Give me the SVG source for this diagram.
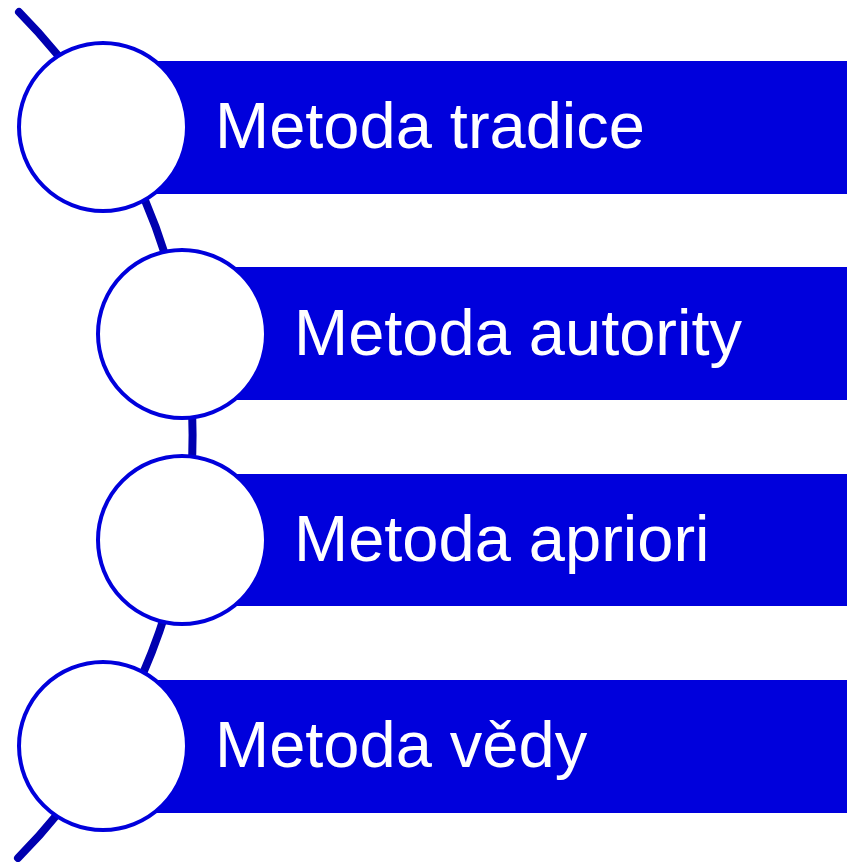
<svg xmlns="http://www.w3.org/2000/svg" width="847" height="862" viewBox="0 0 847 862">
<style>
.bar{fill:#0000DC;}
.dot{fill:#FFFFFF;stroke:#0000DC;stroke-width:4;}
.lbl{fill:#FFFFFF;font-family:"Liberation Sans",Arial,sans-serif;font-size:65px;}
.arc{fill:none;stroke:#0000B0;stroke-width:8;stroke-linecap:round;}
</style>
<rect width="847" height="862" fill="#FFFFFF"/>
<g id="connectors">
<path class="arc" d="M 19 12 A 601 601 0 0 1 18 858"/>
</g>
<g id="node1">
<rect class="bar" x="150" y="61" width="697" height="133"/>
<circle class="dot" cx="103" cy="127" r="84"/>
<text class="lbl" x="215" y="148">Metoda tradice</text>
</g>
<g id="node2">
<rect class="bar" x="230" y="267" width="617" height="133"/>
<circle class="dot" cx="182" cy="334" r="84"/>
<text class="lbl" x="294" y="355">Metoda autority</text>
</g>
<g id="node3">
<rect class="bar" x="230" y="474" width="617" height="132"/>
<circle class="dot" cx="182" cy="540" r="84"/>
<text class="lbl" x="294" y="561">Metoda apriori</text>
</g>
<g id="node4">
<rect class="bar" x="150" y="680" width="697" height="133"/>
<circle class="dot" cx="103" cy="746" r="84"/>
<text class="lbl" x="215" y="767">Metoda vědy</text>
</g>
</svg>
